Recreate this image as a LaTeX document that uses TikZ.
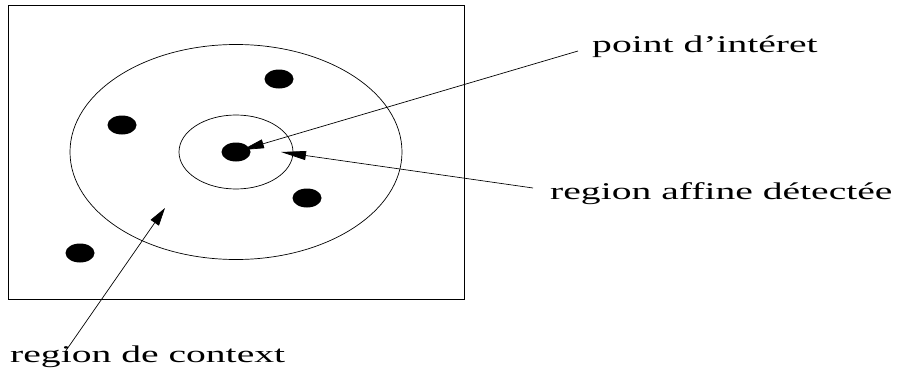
\documentclass[tikz,border=0pt]{standalone}
\usepackage{fontspec}
\setmainfont{Liberation Serif}
\usetikzlibrary{arrows.meta}
\tikzset{
  lbl/.style={inner sep=0pt, anchor=base west, font=\fontsize{24}{28}\selectfont},
  thin line/.style={line width=0.7pt},
  dot/.style={fill=black},
}
\newcommand{\stretchtext}[1]{\scalebox{1.65}[1]{#1}}
\begin{document}
\begin{tikzpicture}[x=1pt,y=-1pt]
\useasboundingbox (0,0) rectangle (897,380);
% frame
\draw[line width=0.9pt] (8,5) rectangle (464,299);
% regions
\coordinate (c) at (236,152);
\draw[thin line] (c) ellipse [x radius=166, y radius=107.5];
\draw[thin line] (c) ellipse [x radius=57, y radius=37];
% dots
\fill[dot] (c) ellipse [x radius=14.5, y radius=9.5];
\fill[dot] (279,79) ellipse [x radius=14.5, y radius=9.5];
\fill[dot] (122,125) ellipse [x radius=14.5, y radius=9.5];
\fill[dot] (307,198) ellipse [x radius=14.5, y radius=9.5];
\fill[dot] (80,253) ellipse [x radius=14.5, y radius=9.5];
% labels
\node[lbl] (pi) at (592,52) {\stretchtext{point d’intéret}};
\node[lbl] (ra) at (550,199) {\stretchtext{region affine détectée}};
\node[lbl] (rc) at (10,362) {\stretchtext{region de context}};
% arrow ends
\coordinate (s1) at (578,51);
\coordinate (t1) at (242,150);
\coordinate (s2) at (533,188);
\coordinate (t2) at (281,152);
\coordinate (s3) at (65,352);
\coordinate (t3) at (165,208);
\draw[thin line, -{Triangle[length=22pt,width=9pt]}] (s1) -- (t1);
\draw[thin line, -{Triangle[length=25pt,width=9pt]}] (s2) -- (t2);
\draw[thin line, -{Triangle[length=18pt,width=10pt]}] (s3) -- (t3);
\end{tikzpicture}
\end{document}
